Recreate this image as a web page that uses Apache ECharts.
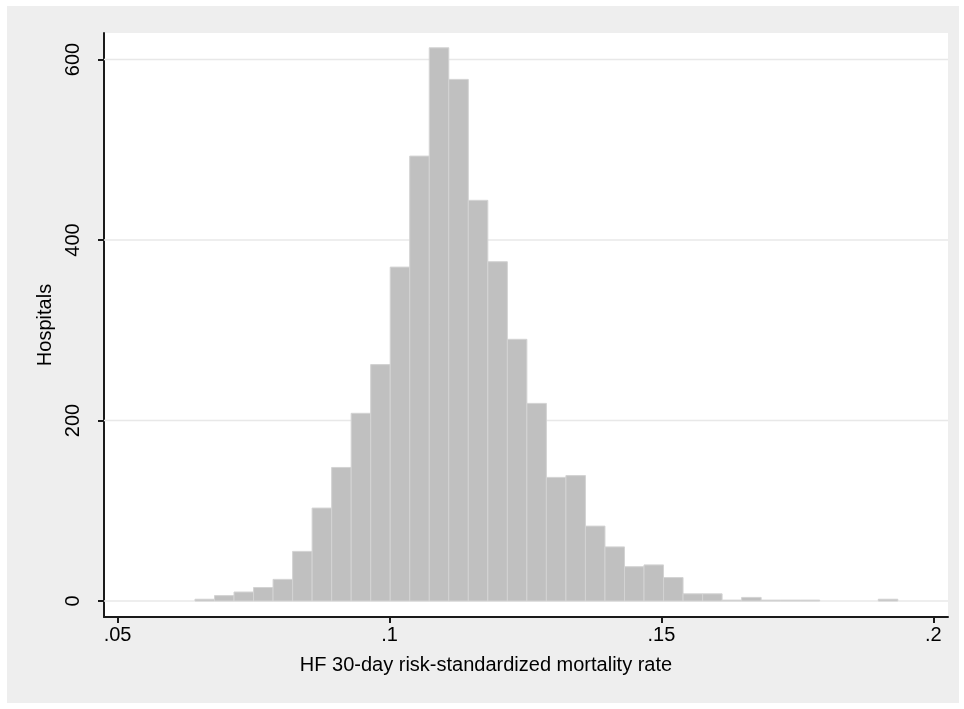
<!DOCTYPE html>
<html>
<head>
<meta charset="utf-8">
<title>HF 30-day mortality histogram</title>
<script src="https://cdn.jsdelivr.net/npm/echarts@6/dist/echarts.min.js"></script>
<style>
  html, body { margin: 0; padding: 0; background: #fff; }
  #chart { width: 964px; height: 709px; }
</style>
</head>
<body>
<div id="chart"></div>
<script>
// histogram bins
var binStart = 0.06423;
var binWidth = 0.00359;
var counts = [2, 6, 10, 15, 24, 55, 103, 148, 208, 262, 370, 493, 613, 578, 444, 376, 290, 219,
              137, 139, 83, 60, 38, 40, 26, 8, 8, 1, 4, 1, 1, 1, 0, 0, 0, 2];
var xTicks = [0.05, 0.1, 0.15, 0.2];
var yTicks = [0, 200, 400, 600];

var xMin = 0.0475, xMax = 0.2027;

var bins = counts.map(function (c, i) {
    return [binStart + i * binWidth, binStart + (i + 1) * binWidth, c];
});

var chartDom = document.getElementById("chart");
var myChart = echarts.init(chartDom);
var option;

var labelFont = {
    fontFamily: "Liberation Sans, Arial, sans-serif",
    fontSize: 20,
    color: "#000"
};

option = {
    animation: false,
    backgroundColor: "#fff",
    graphic: [
        {
            type: "rect",
            z: -10,
            shape: { x: 7, y: 6, width: 952, height: 697 },
            style: { fill: "#eeeeee" }
        }
    ],
    grid: {
        left: 104,
        right: 16,
        top: 33,
        bottom: 92,
        show: true,
        backgroundColor: "#fff",
        borderWidth: 0
    },
    xAxis: {
        type: "value",
        min: xMin,
        max: xMax,
        name: "HF 30-day risk-standardized mortality rate",
        nameLocation: "middle",
        nameGap: 38,
        nameTextStyle: Object.assign({ padding: [0, 80, 0, 0] }, labelFont),
        axisLine: { show: true, onZero: false, lineStyle: { color: "#1a1a1a", width: 2 } },
        axisTick: { show: true, length: 6, lineStyle: { color: "#1a1a1a", width: 2 }, customValues: xTicks },
        axisLabel: Object.assign({
            margin: 8,
            customValues: xTicks,
            formatter: function (v) { return String(v).replace(/^0/, ""); }
        }, labelFont),
        splitLine: { show: false }
    },
    yAxis: {
        type: "value",
        min: -17.7,
        max: 629.4,
        name: "Hospitals",
        nameLocation: "middle",
        nameGap: 48,
        nameTextStyle: labelFont,
        axisLine: { show: true, onZero: false, lineStyle: { color: "#1a1a1a", width: 2 } },
        axisTick: { show: true, length: 6, lineStyle: { color: "#1a1a1a", width: 2 }, customValues: yTicks },
        axisLabel: Object.assign({
            margin: 21,
            rotate: 90,
            customValues: yTicks
        }, labelFont),
        splitLine: { show: false }
    },
    series: [
        {
            // gridlines, drawn before (behind) the bars
            type: "custom",
            z: 1,
            silent: true,
            data: yTicks.map(function (t) { return [xMin, t]; }),
            encode: { x: 0, y: 1 },
            renderItem: function (params, api) {
                var cs = params.coordSys;
                var y = api.coord([api.value(0), api.value(1)])[1];
                return {
                    type: "line",
                    shape: { x1: cs.x, y1: y, x2: cs.x + cs.width, y2: y },
                    style: { stroke: "#e8e8e8", lineWidth: 1.5 }
                };
            }
        },
        {
            type: "custom",
            z: 3,
            data: bins,
            encode: { x: [0, 1], y: 2 },
            renderItem: function (params, api) {
                var h = api.value(2);
                if (!h) return null;
                var p0 = api.coord([api.value(0), h]);
                var p1 = api.coord([api.value(1), 0]);
                return {
                    type: "rect",
                    shape: { x: p0[0], y: p0[1], width: p1[0] - p0[0], height: p1[1] - p0[1] },
                    style: { fill: "#c0c0c0", stroke: "#d3d3d3", lineWidth: 1 }
                };
            }
        }
    ]
};

option && myChart.setOption(option);
</script>
</body>
</html>
